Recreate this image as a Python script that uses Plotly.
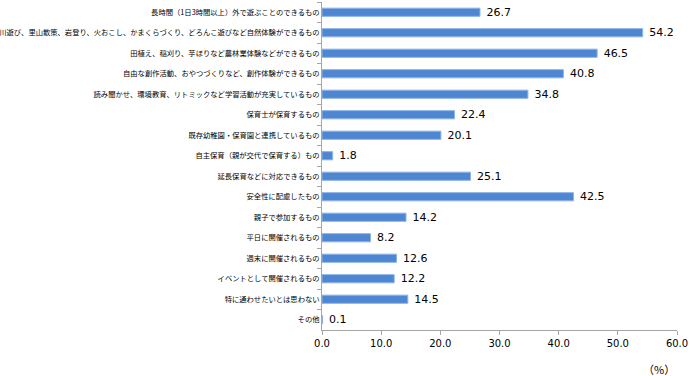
import plotly.graph_objects as go

categories = [
    "長時間（1日3時間以上）外で遊ぶことのできるもの",
    "川遊び、里山散策、岩登り、火おこし、かまくらづくり、どろんこ遊びなど自然体験ができるもの",
    "田植え、稲刈り、芋ほりなど農林業体験などができるもの",
    "自由な創作活動、おやつづくりなど、創作体験ができるもの",
    "読み聞かせ、環境教育、リトミックなど学習活動が充実しているもの",
    "保育士が保育するもの",
    "既存幼稚園・保育園と連携しているもの",
    "自主保育（親が交代で保育する）もの",
    "延長保育などに対応できるもの",
    "安全性に配慮したもの",
    "親子で参加するもの",
    "平日に開催されるもの",
    "週末に開催されるもの",
    "イベントとして開催されるもの",
    "特に通わせたいとは思わない",
    "その他",
]
values = [26.7, 54.2, 46.5, 40.8, 34.8, 22.4, 20.1, 1.8, 25.1, 42.5, 14.2, 8.2, 12.6, 12.2, 14.5, 0.1]
x_ticks = [0, 10, 20, 30, 40, 50, 60]
x_tick_labels = ["0.0", "10.0", "20.0", "30.0", "40.0", "50.0", "60.0"]

font_family = "Noto Sans CJK JP, Noto Sans, sans-serif"
num_font = "Verdana, DejaVu Sans, sans-serif"

fig = go.Figure(go.Bar(
    x=values,
    y=categories,
    orientation="h",
    marker=dict(color="#4F86D1", line=dict(color="#8DB3E8", width=1)),
    texttemplate="\u00a0%{x:.1f}",
    textposition="outside",
    constraintext="none",
    textfont=dict(size=11, color="#000000", family=num_font),
    cliponaxis=False,
))

fig.update_layout(
    width=690, height=376,
    margin=dict(l=322, r=13, t=2, b=46, autoexpand=False),
    paper_bgcolor="white", plot_bgcolor="white",
    bargap=0.6,
    showlegend=False,
    font=dict(family=font_family, size=7.3, color="#000000"),
    xaxis=dict(
        range=[0, 60], tickvals=x_ticks, ticktext=x_tick_labels,
        showgrid=False, zeroline=False, automargin=False,
        showline=True, linecolor="#A6A6A6", linewidth=1,
        ticks="outside", ticklen=4, tickcolor="#A6A6A6",
        tickfont=dict(size=10, family=num_font),
    ),
    yaxis=dict(
        autorange="reversed", type="category", automargin=False,
        showgrid=False, zeroline=False,
        showline=True, linecolor="#A6A6A6", linewidth=1,
        ticks="outside", ticklen=4, tickcolor="#A6A6A6",
        tickson="boundaries",
        tickfont=dict(size=7.3),
    ),
    annotations=[dict(
        text="（%）", x=1.0, y=0, xref="paper", yref="paper",
        xanchor="right", yanchor="top", yshift=-29, showarrow=False,
        font=dict(size=11),
    )],
)

fig.write_html("out.html", config={"displayModeBar": False},
               post_script="document.body.style.margin='0';")
